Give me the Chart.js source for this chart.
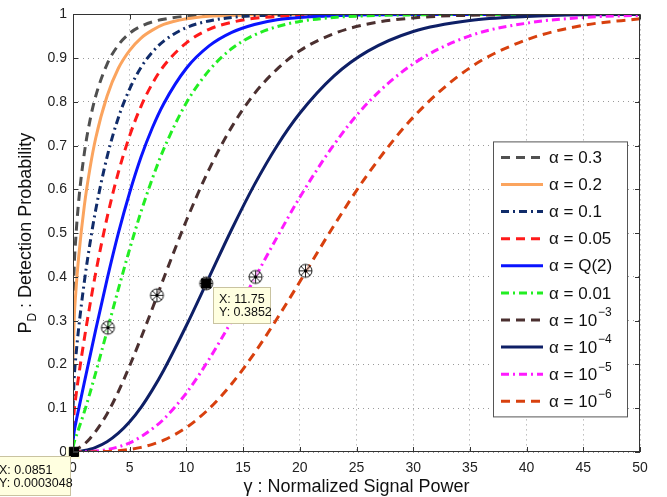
<!DOCTYPE html>
<html>
<head>
<meta charset="utf-8">
<script src="https://cdn.jsdelivr.net/npm/chart.js@4.4.1/dist/chart.umd.min.js"></script>
<style>
  html, body { margin: 0; padding: 0; background: #fff; }
</style>
</head>
<body>
<canvas id="pdChart" width="667" height="497"></canvas>
<script>
// normalized signal power (x) and detection probability per false-alarm level
const gammaVals = [0, 0.1, 0.25, 0.5, 1, 1.5, 2, 3, 4, 5, 6, 7, 8, 10, 12, 14, 16, 18, 20, 23, 26, 30, 35, 40, 45, 50];

const pdA03  = [0.300,0.418,0.490,0.573,0.683,0.758,0.813,0.886,0.930,0.957,0.973,0.983,0.989,0.996,0.998,0.999,1,1,1,1,1,1,1,1,1,1];
const pdA02  = [0.200,0.300,0.366,0.446,0.563,0.649,0.717,0.813,0.877,0.918,0.946,0.964,0.977,0.990,0.996,0.998,0.999,1,1,1,1,1,1,1,1,1];
const pdA01  = [0.100,0.167,0.217,0.283,0.389,0.477,0.553,0.674,0.764,0.830,0.879,0.914,0.939,0.970,0.985,0.993,0.997,0.998,0.999,1,1,1,1,1,1,1];
const pdA005 = [0.050,0.092,0.126,0.174,0.259,0.337,0.409,0.535,0.639,0.723,0.790,0.842,0.882,0.935,0.966,0.982,0.991,0.995,0.998,0.999,1,1,1,1,1,1];
const pdAQ2  = [0.023,0.046,0.067,0.098,0.159,0.219,0.279,0.394,0.500,0.593,0.674,0.741,0.796,0.877,0.928,0.959,0.977,0.988,0.993,0.997,0.999,1,1,1,1,1];
const pdA001 = [0.010,0.022,0.034,0.053,0.092,0.135,0.181,0.276,0.372,0.464,0.549,0.625,0.692,0.798,0.872,0.922,0.953,0.972,0.984,0.993,0.997,0.999,1,1,1,1];
const pdA1e3 = [0.001,0.003,0.005,0.009,0.018,0.031,0.047,0.087,0.138,0.197,0.261,0.328,0.397,0.529,0.646,0.743,0.819,0.875,0.917,0.956,0.978,0.992,0.998,0.999,1,1];
const pdA1e4 = [0.0001,0.0003,0.0006,0.0013,0.0033,0.0063,0.0106,0.0235,0.043,0.069,0.102,0.142,0.187,0.289,0.399,0.509,0.611,0.700,0.774,0.859,0.916,0.961,0.986,0.995,0.999,1.0];
const pdA1e5 = [0,0,0.0001,0.0002,0.0005,0.0012,0.0022,0.0057,0.0118,0.021,0.035,0.053,0.075,0.135,0.212,0.300,0.396,0.491,0.582,0.702,0.798,0.887,0.951,0.980,0.993,0.998];
const pdA1e6 = [0,0,0,0,0.0001,0.0002,0.0004,0.0013,0.003,0.0059,0.0106,0.0175,0.027,0.056,0.099,0.156,0.226,0.305,0.389,0.517,0.635,0.765,0.878,0.942,0.975,0.990];

const seriesNames = ['α = 0.3', 'α = 0.2', 'α = 0.1', 'α = 0.05', 'α = Q(2)', 'α = 0.01', 'α = 10', 'α = 10', 'α = 10', 'α = 10'];
const seriesSup = ['', '', '', '', '', '', '−3', '−4', '−5', '−6'];

// circled markers on the curves, and the two data tips
const markX = [3.08, 7.4, 11.75, 16.1, 20.5];
const markY = [0.284, 0.358, 0.3852, 0.400, 0.414];
const tipX = [11.75, 0.0851];
const tipY = [0.3852, 0.0003048];

const xTicks = [0, 5, 10, 15, 20, 25, 30, 35, 40, 45, 50];
const yTicks = [0, 0.1, 0.2, 0.3, 0.4, 0.5, 0.6, 0.7, 0.8, 0.9, 1];

const allSeries = [pdA03, pdA02, pdA01, pdA005, pdAQ2, pdA001, pdA1e3, pdA1e4, pdA1e5, pdA1e6];
const colors = ['#505050', '#fba45e', '#112c6a', '#ff1a1a', '#0a14ff', '#22ee22', '#4b3030', '#0e1f66', '#ff1aff', '#d8400e'];
const DASH = [9, 6], DASHDOT = [8, 4, 2, 4];
const dashes = [DASH, [], DASHDOT, DASH, [], DASHDOT, DASH, [], DASHDOT, DASH];

const FONT = "'Liberation Sans', Arial, Helvetica, sans-serif";

function makeMarker() {
    const c = document.createElement('canvas');
    c.width = c.height = 17;
    const g = c.getContext('2d');
    g.fillStyle = 'rgba(255,255,255,0.6)';
    g.strokeStyle = '#222';
    g.lineWidth = 1;
    g.beginPath();
    g.arc(8.5, 8.5, 6.5, 0, 2 * Math.PI);
    g.fill();
    g.stroke();
    g.beginPath();
    for (let k = 0; k < 4; k++) {
        const t = k * Math.PI / 4;
        g.moveTo(8.5 + 6.5 * Math.cos(t), 8.5 + 6.5 * Math.sin(t));
        g.lineTo(8.5 - 6.5 * Math.cos(t), 8.5 - 6.5 * Math.sin(t));
    }
    g.stroke();
    g.fillStyle = '#000';
    g.fillRect(7, 7, 3, 3);
    return c;
}

const datasets = allSeries.map((vals, i) => ({
    label: seriesNames[i] + seriesSup[i],
    data: gammaVals.map((g, j) => ({ x: g, y: vals[j] })),
    borderColor: colors[i],
    borderWidth: 3,
    borderDash: dashes[i],
    pointRadius: 0,
    fill: false,
    cubicInterpolationMode: 'monotone',
    order: 20 - i
}));

datasets.push({
    type: 'scatter',
    label: 'marks',
    data: markX.map((v, i) => ({ x: v, y: markY[i] })),
    pointStyle: makeMarker(),
    pointRadius: 8,
    showLine: false,
    clip: false,
    order: 1
});
datasets.push({
    type: 'scatter',
    label: 'tips',
    data: tipX.map((v, i) => ({ x: v, y: tipY[i] })),
    pointStyle: 'rect',
    pointRadius: 6.5,
    backgroundColor: '#000',
    borderColor: '#000',
    borderWidth: 1,
    showLine: false,
    clip: false,
    order: 0
});

function drawTip(ctx, bx, by, w, h, lines, tx, ty) {
    ctx.fillStyle = '#ffffe0';
    ctx.strokeStyle = '#c9c3a0';
    ctx.lineWidth = 1;
    ctx.fillRect(bx, by, w, h);
    ctx.strokeRect(bx + 0.5, by + 0.5, w - 1, h - 1);
    ctx.fillStyle = '#111';
    ctx.font = '12.5px ' + FONT;
    ctx.textAlign = 'left';
    ctx.textBaseline = 'alphabetic';
    lines.forEach((t, k) => ctx.fillText(t, tx, ty + k * 13));
}

const decorPlugin = {
    id: 'decor',
    beforeDatasetsDraw(chart) {
        const { ctx, scales: { x, y } } = chart;
        const px = x.getPixelForValue(tipX[1]), py = y.getPixelForValue(tipY[1]);
        ctx.save();
        ctx.fillStyle = '#ffffe0';
        ctx.fillRect(px - 8, py - 5, 14, 12);
        ctx.restore();
    },
    afterDatasetsDraw(chart) {
        const { ctx, chartArea: a, scales: { x, y } } = chart;
        ctx.save();
        ctx.strokeStyle = '#333';
        ctx.lineWidth = 1;
        ctx.beginPath();
        xTicks.forEach(v => {
            const px = Math.round(x.getPixelForValue(v)) + 0.5;
            ctx.moveTo(px, a.bottom); ctx.lineTo(px, a.bottom - 5);
            ctx.moveTo(px, a.top); ctx.lineTo(px, a.top + 5);
        });
        yTicks.forEach(v => {
            const py = Math.round(y.getPixelForValue(v)) + 0.5;
            ctx.moveTo(a.left, py); ctx.lineTo(a.left + 5, py);
            ctx.moveTo(a.right, py); ctx.lineTo(a.right - 5, py);
        });
        ctx.stroke();
        ctx.strokeRect(Math.round(a.left) + 0.5, Math.round(a.top) + 0.5, Math.round(a.width) - 1, Math.round(a.height) - 1);
        ctx.restore();
    },
    afterDraw(chart) {
        const { ctx, chartArea: a, scales: { x, y } } = chart;
        ctx.save();

        // legend box
        const lx = a.right - 147, ly = a.top + 127, lw = 134, lh = 275;
        ctx.fillStyle = '#fff';
        ctx.fillRect(lx, ly, lw, lh);
        ctx.strokeStyle = '#555';
        ctx.lineWidth = 1;
        ctx.strokeRect(lx + 0.5, ly + 0.5, lw, lh);
        allSeries.forEach((_, i) => {
            const ry = ly + 16 + i * 27.1;
            ctx.beginPath();
            ctx.strokeStyle = colors[i];
            ctx.lineWidth = 3;
            ctx.setLineDash(dashes[i]);
            ctx.moveTo(lx + 8, ry);
            ctx.lineTo(lx + 50, ry);
            ctx.stroke();
            ctx.setLineDash([]);
            ctx.fillStyle = '#111';
            ctx.font = '17px ' + FONT;
            ctx.textAlign = 'left';
            ctx.textBaseline = 'middle';
            const tx = lx + 56;
            ctx.fillText(seriesNames[i], tx, ry + 1);
            if (seriesSup[i]) {
                const w = ctx.measureText(seriesNames[i]).width;
                ctx.font = '12px ' + FONT;
                ctx.fillText(seriesSup[i], tx + w + 1, ry - 7);
            }
        });

        // data tips
        let px = x.getPixelForValue(tipX[0]), py = y.getPixelForValue(tipY[0]);
        drawTip(ctx, Math.round(px) + 7, Math.round(py) + 4, 58, 37, ['X: 11.75', 'Y: 0.3852'], Math.round(px) + 13, Math.round(py) + 20);
        px = x.getPixelForValue(tipX[1]); py = y.getPixelForValue(tipY[1]);
        drawTip(ctx, Math.round(px) - 80, Math.round(py) + 4, 77, 40, ['X: 0.0851', 'Y: 0.0003048'], Math.round(px) - 75, Math.round(py) + 22);

        // axis titles
        ctx.fillStyle = '#111';
        ctx.textBaseline = 'alphabetic';
        ctx.textAlign = 'center';
        ctx.font = '18px ' + FONT;
        ctx.fillText('γ : Normalized Signal Power', (a.left + a.right) / 2, 492);

        ctx.translate(31, (a.top + a.bottom) / 2);
        ctx.rotate(-Math.PI / 2);
        ctx.textAlign = 'left';
        ctx.font = '18px ' + FONT;
        const wP = ctx.measureText('P').width;
        const rest = ' : Detection Probability';
        const wR = ctx.measureText(rest).width;
        ctx.font = '12px ' + FONT;
        const wD = ctx.measureText('D').width;
        const start = -(wP + wD + wR) / 2;
        ctx.font = '18px ' + FONT;
        ctx.fillText('P', start, 0);
        ctx.font = '12px ' + FONT;
        ctx.fillText('D', start + wP, 5);
        ctx.font = '18px ' + FONT;
        ctx.fillText(rest, start + wP + wD, 0);
        ctx.restore();
    }
};

new Chart(document.getElementById('pdChart').getContext('2d'), {
    type: 'line',
    data: { datasets },
    options: {
        responsive: false,
        animation: false,
        layout: { padding: { top: 5, right: 27, left: 0, bottom: 0 } },
        plugins: { legend: { display: false }, tooltip: { enabled: false } },
        scales: {
            x: {
                type: 'linear',
                min: 0,
                max: 50,
                afterFit: s => { s.height = 45; },
                afterBuildTicks: s => { s.ticks = xTicks.map(v => ({ value: v })); },
                ticks: { color: '#222', font: { size: 14, family: FONT }, padding: 8, maxRotation: 0 },
                grid: { color: '#9a9a9a', lineWidth: 1, drawTicks: false },
                border: { display: false, dash: [1, 4] }
            },
            y: {
                min: 0,
                max: 1,
                afterFit: s => { s.width = 73; },
                afterBuildTicks: s => { s.ticks = yTicks.map(v => ({ value: v })); },
                ticks: {
                    color: '#222',
                    font: { size: 14, family: FONT },
                    padding: 6,
                    callback: v => (v === 0 ? '0' : v === 1 ? '1' : v.toFixed(1))
                },
                grid: { color: '#9a9a9a', lineWidth: 1, drawTicks: false },
                border: { display: false, dash: [1, 4] }
            }
        }
    },
    plugins: [decorPlugin]
});
</script>
</body>
</html>
